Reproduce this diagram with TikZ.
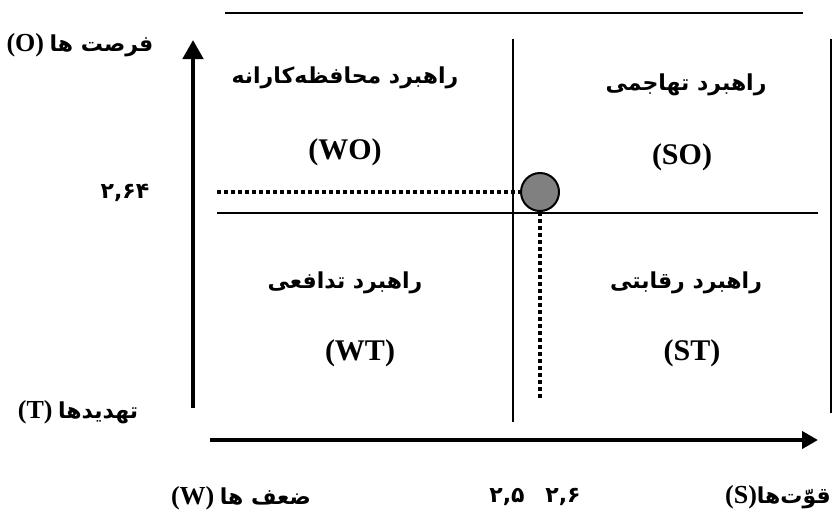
\documentclass[tikz,border=0pt]{standalone}
\usepackage{fontspec}
\setmainfont{Liberation Serif}
\newfontfamily\arabicfont[Script=Arabic]{DejaVu Sans}
\TeXXeTstate=1
\usetikzlibrary{positioning, arrows.meta}
\newcommand{\fatext}[1]{{\arabicfont\bfseries\beginR #1\endR}}
\newcommand{\lattext}[1]{{\fontsize{26}{30}\selectfont #1}}

\begin{document}
\begin{tikzpicture}[
    x=1pt, y=-1pt,
    every node/.style={font=\bfseries\fontsize{22}{26}\selectfont, inner sep=0pt},
    yaxis/.style={line width=4.5pt, -{Triangle[length=19pt, width=20pt]}},
    xaxis/.style={line width=4.5pt, -{Triangle[length=16pt, width=17pt]}},
    frame/.style={line width=2.8pt},
    divider/.style={line width=1.8pt},
    dotline/.style={line width=4pt, dash pattern=on 4pt off 3pt},
    point/.style={circle, draw, line width=2pt, fill=gray, minimum size=38pt},
    tag/.style={font=\bfseries\fontsize{30}{34}\selectfont}
]
\useasboundingbox (0,0) rectangle (833,517);

\coordinate (topL) at (225,13);
\coordinate (topR) at (803,13);
\coordinate (rightT) at (831,39);
\coordinate (rightB) at (831,413);
\coordinate (yB) at (193,408);
\coordinate (yT) at (193,40);
\coordinate (xL) at (210,440);
\coordinate (xR) at (818,440);
\coordinate (midT) at (513,39);
\coordinate (midB) at (513,422);
\coordinate (midL) at (217,213);
\coordinate (midR) at (818,213);
\coordinate (dotL) at (217,192);
\coordinate (dotB) at (540,398);

\draw[frame] (topL) -- (topR);
\draw[frame] (rightT) -- (rightB);
\draw[yaxis] (yB) -- (yT);
\draw[xaxis] (xL) -- (xR);
\draw[divider] (midT) -- (midB);
\draw[divider] (midL) -- (midR);

\node[point] (pt) at (540,192) {};
\draw[dotline] (dotL) -- (pt);
\draw[dotline] (pt) -- (dotB);

\node (lblO) at (80,45) {\lattext{(O)}~\fatext{فرصت ها}};
\node (lblT) at (78,412) {\lattext{(T)}~\fatext{تهدیدها}};
\node (lblW) at (241,498) {\lattext{(W)}~\fatext{ضعف ها}};
\node[anchor=east] (lblS) at (831,497) {\lattext{(S)}\fatext{قوّت‌ها}};
\node (valY) at (125,193) {\arabicfont\bfseries ۲,۶۴};
\node (valA) at (507,497) {\arabicfont\bfseries ۲,۵};
\node (valB) at (563,497) {\arabicfont\bfseries ۲,۶};

\node (woTitle) at (345,78) {\fatext{راهبرد محافظه‌کارانه}};
\node[tag] (wo) at (345,152) {(WO)};
\node (soTitle) at (686,85) {\fatext{راهبرد تهاجمی}};
\node[tag] (so) at (682,157) {(SO)};
\node (wtTitle) at (345,283) {\fatext{راهبرد تدافعی}};
\node[tag] (wt) at (360,353) {(WT)};
\node (stTitle) at (686,283) {\fatext{راهبرد رقابتی}};
\node[tag] (st) at (692,353) {(ST)};
\end{tikzpicture}
\end{document}
